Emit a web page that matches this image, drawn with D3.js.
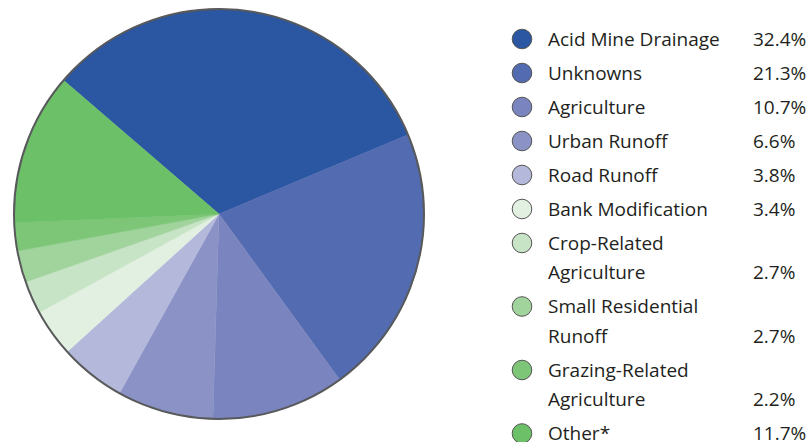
<!DOCTYPE html>
<html>
<head>
<meta charset="utf-8">
<script src="https://cdn.jsdelivr.net/npm/d3@7"></script>
<style>
  body { margin: 0; background: #fff; }
  svg text { font-family: "Open Sans", sans-serif; fill: #231f20; }
</style>
</head>
<body>
<div id="chart"></div>
<script>
// categories, shown in legend order (also pie order, clockwise)
const categories = [
  ["Acid Mine Drainage"],
  ["Unknowns"],
  ["Agriculture"],
  ["Urban Runoff"],
  ["Road Runoff"],
  ["Bank Modification"],
  ["Crop-Related", "Agriculture"],
  ["Small Residential", "Runoff"],
  ["Grazing-Related", "Agriculture"],
  ["Other*"]
];
// percent labels as printed in the legend
const labels = ["32.4%", "21.3%", "10.7%", "6.6%", "3.8%", "3.4%", "2.7%", "2.7%", "2.2%", "11.7%"];
// slice sizes as drawn in the pie
const sliceValues = [32.4, 21.3, 10.5, 7.6, 5.2, 3.75, 2.6, 2.5, 2.2, 12.0];
const colors = ["#2b56a1", "#536bb0", "#7a84be", "#8b93c6", "#b4b8db",
                "#e1f0e0", "#c8e4c6", "#a1d39c", "#7dc678", "#6cc068"];

const width = 811, height = 442;
const svg = d3.select("#chart").append("svg")
  .attr("width", width)
  .attr("height", height);

const cx = 219, cy = 214, r = 205;
const pie = d3.pie().sort(null).value(d => d)
  .startAngle(-49.3 * Math.PI / 180)
  .endAngle((360 - 49.3) * Math.PI / 180);
const arc = d3.arc().innerRadius(0).outerRadius(r);

const g = svg.append("g").attr("transform", `translate(${cx},${cy})`);
g.selectAll("path.slice")
  .data(pie(sliceValues))
  .join("path")
  .attr("class", "slice")
  .attr("d", arc)
  .attr("fill", (d, i) => colors[i])
  .attr("stroke", (d, i) => colors[i])
  .attr("stroke-width", 0.5);

g.append("circle")
  .attr("r", r)
  .attr("fill", "none")
  .attr("stroke", "#58595b")
  .attr("stroke-width", 2);

// legend
const legend = svg.append("g");
const rowGap = 34, lineGap = 29.5;
let y = 39;
categories.forEach((lines, i) => {
  legend.append("circle")
    .attr("cx", 522)
    .attr("cy", y)
    .attr("r", 9.8)
    .attr("fill", colors[i])
    .attr("stroke", "#555")
    .attr("stroke-width", 1);
  lines.forEach((t, j) => {
    legend.append("text")
      .attr("x", 548)
      .attr("y", y + j * lineGap + 6.5)
      .attr("font-size", 19)
      .text(t);
  });
  const lastY = y + (lines.length - 1) * lineGap;
  legend.append("text")
    .attr("x", 753)
    .attr("y", lastY + 6.5)
    .attr("font-size", 19)
    .text(labels[i]);
  y = lastY + rowGap;
});
</script>
</body>
</html>
